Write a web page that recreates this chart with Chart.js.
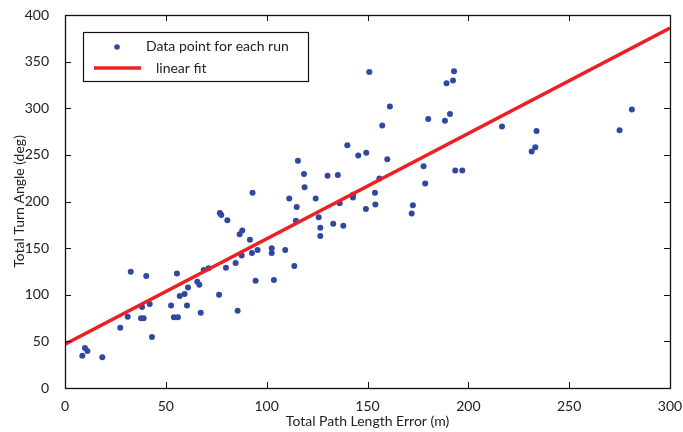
<!doctype html>
<html>
<head>
<title>Turn angle vs path length error</title>
<script src="https://cdn.jsdelivr.net/npm/chart.js@4.4.0/dist/chart.umd.min.js"></script>
<style>
  html, body { margin: 0; padding: 0; background: #fff; }
  #container { width: 683px; height: 432px; }
</style>
</head>
<body>
<div id="container"><canvas id="canvas"></canvas></div>
<script>
// values
var runX = [8.6, 9.9, 11.1, 18.5, 27.4, 31.1, 32.6, 38.2, 37.7, 39.0, 40.3, 42.0, 43.1, 52.6, 54.0, 56.0, 55.5,
  56.9, 59.3, 60.5, 61.0, 65.6, 66.6, 67.3, 68.8, 71.2, 76.4, 79.8, 84.6, 85.6, 87.6, 92.7, 94.5, 95.5,
  76.8, 77.5, 80.5, 86.6, 87.9, 91.7, 93.0, 102.5, 102.5, 103.6, 109.2, 111.2, 113.7, 114.9, 114.5, 115.5,
  118.5, 118.8, 124.3, 125.8, 126.6, 126.6, 130.2, 133.0, 135.3, 136.2, 138.0, 140.0, 142.8, 142.8, 145.4,
  149.4, 149.2, 153.7, 153.9, 155.9, 150.9, 161.1, 157.3, 159.8, 177.8, 178.6, 172.5, 171.9, 180.1, 188.4,
  190.9, 189.2, 192.4, 192.9, 193.5, 197.0, 216.7, 233.8, 233.2, 231.4, 275.0, 281.1];
var runY = [34.6, 42.9, 39.7, 32.9, 64.6, 76.4, 124.7, 86.8, 74.7, 74.7, 120.0, 90.0, 54.7, 88.6, 75.8, 75.8, 122.9,
  98.6, 100.7, 88.6, 107.9, 113.9, 110.7, 80.7, 126.5, 128.3, 100.0, 128.9, 134.0, 82.9, 142.2, 144.7, 115.0, 147.9,
  187.6, 185.4, 180.0, 165.0, 169.0, 159.0, 209.3, 150.0, 144.7, 115.8, 147.9, 203.3, 130.8, 194.0, 179.3, 243.6,
  229.4, 215.4, 203.3, 183.0, 171.8, 162.9, 227.5, 176.1, 228.3, 198.0, 174.0, 260.4, 204.4, 207.2, 249.4,
  252.2, 191.9, 209.3, 196.9, 224.7, 339.0, 301.9, 281.6, 245.4, 237.9, 219.4, 196.1, 187.2, 288.6, 286.5,
  293.7, 326.9, 329.8, 339.8, 233.3, 233.3, 280.5, 275.5, 258.3, 253.7, 276.5, 298.7];
var fitX = [0, 300];
var fitY = [47, 386];
var xTicks = [0, 50, 100, 150, 200, 250, 300];
var yTicks = [0, 50, 100, 150, 200, 250, 300, 350, 400];

var dotColor = 'rgb(48,72,160)';
var fitColor = 'rgb(236,32,36)';
var fontFamily = 'Lato, "Open Sans", sans-serif';

function pairs(xs, ys) {
  return xs.map(function (x, i) { return { x: x, y: ys[i] }; });
}

// inward tick marks on all four sides, box frame, and the boxed legend
var framePlugin = {
  id: 'frame',
  afterDraw: function (chart) {
    var ctx = chart.ctx, a = chart.chartArea;
    var xs = chart.scales.x, ys = chart.scales.y;
    ctx.save();
    ctx.strokeStyle = '#111';
    ctx.lineWidth = 1;
    ctx.beginPath();
    xTicks.forEach(function (v) {
      var px = Math.round(xs.getPixelForValue(v)) + 0.5;
      ctx.moveTo(px, a.bottom); ctx.lineTo(px, a.bottom - 6);
      ctx.moveTo(px, a.top); ctx.lineTo(px, a.top + 6);
    });
    yTicks.forEach(function (v) {
      var py = Math.round(ys.getPixelForValue(v)) + 0.5;
      ctx.moveTo(a.left, py); ctx.lineTo(a.left + 6, py);
      ctx.moveTo(a.right, py); ctx.lineTo(a.right - 6, py);
    });
    ctx.stroke();
    ctx.lineWidth = 1.3;
    ctx.strokeRect(Math.round(a.left) + 0.5, Math.round(a.top) + 0.5,
      Math.round(a.right - a.left), Math.round(a.bottom - a.top));

    // legend box
    var lx = a.left + 18, ly = a.top + 17, lw = 225, lh = 49;
    ctx.fillStyle = '#fff';
    ctx.fillRect(lx, ly, lw, lh);
    ctx.lineWidth = 1.2;
    ctx.strokeRect(lx + 0.5, ly + 0.5, lw, lh);
    ctx.fillStyle = dotColor;
    ctx.beginPath();
    ctx.arc(lx + 34, ly + 15, 2.8, 0, Math.PI * 2);
    ctx.fill();
    ctx.strokeStyle = fitColor;
    ctx.lineWidth = 3.5;
    ctx.beginPath();
    ctx.moveTo(lx + 11, ly + 36); ctx.lineTo(lx + 58, ly + 36);
    ctx.stroke();
    ctx.fillStyle = '#222';
    ctx.font = '14px ' + fontFamily;
    ctx.textBaseline = 'middle';
    ctx.fillText('Data point for each run', lx + 63, ly + 14);
    ctx.fillText('linear fit', lx + 73, ly + 36);
    ctx.restore();
  }
};

var ctx = document.getElementById('canvas').getContext('2d');
window.myChart = new Chart(ctx, {
  type: 'scatter',
  data: {
    datasets: [{
      type: 'line',
      label: 'linear fit',
      data: pairs(fitX, fitY),
      borderColor: fitColor,
      borderWidth: 3.5,
      pointRadius: 0,
      fill: false
    }, {
      label: 'Data point for each run',
      data: pairs(runX, runY),
      backgroundColor: dotColor,
      borderColor: dotColor,
      borderWidth: 0,
      pointRadius: 3
    }]
  },
  options: {
    responsive: true,
    maintainAspectRatio: false,
    animation: false,
    events: [],
    layout: { padding: { left: 0, right: 13, top: 15, bottom: 0 } },
    plugins: {
      legend: { display: false },
      tooltip: { enabled: false }
    },
    scales: {
      x: {
        type: 'linear',
        min: 0, max: 300,
        grid: { display: false },
        border: { display: false },
        afterFit: function (s) { s.height = 44; s.paddingLeft = 0; s.paddingRight = 0; },
        ticks: {
          stepSize: 50, padding: 2, maxRotation: 0,
          color: '#222', font: { family: fontFamily, size: 14 }
        },
        title: {
          display: true, text: 'Total Path Length Error (m)',
          color: '#222', font: { family: fontFamily, size: 14 },
          padding: { top: 0, bottom: 2 }
        }
      },
      y: {
        type: 'linear',
        min: 0, max: 400,
        grid: { display: false },
        border: { display: false },
        afterFit: function (s) { s.width = 65; s.paddingTop = 0; s.paddingBottom = 0; },
        ticks: {
          stepSize: 50, padding: 8,
          color: '#222', font: { family: fontFamily, size: 14 }
        },
        title: {
          display: true, text: 'Total Turn Angle (deg)',
          color: '#222', font: { family: fontFamily, size: 14 },
          padding: { top: 11, bottom: 0 }
        }
      }
    }
  },
  plugins: [framePlugin]
});
</script>
</body>
</html>
